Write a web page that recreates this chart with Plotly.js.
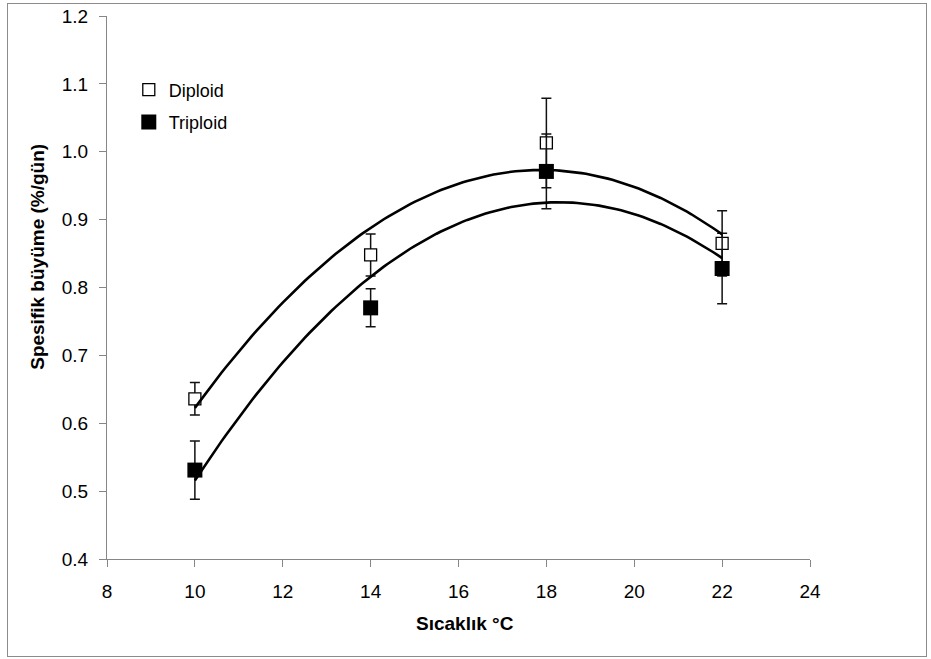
<!DOCTYPE html>
<html>
<head>
<meta charset="utf-8">
<script src="https://cdn.plot.ly/plotly-3.0.1.min.js"></script>
<style>
  html, body { margin: 0; padding: 0; background: #fff; }
  #wrap { position: relative; width: 931px; height: 659px; }
  #chart { width: 931px; height: 659px; }
  #frame { position: absolute; left: 7px; top: 3px; width: 918px; height: 652px;
           border: 1px solid #8c8c8c; pointer-events: none; }
</style>
</head>
<body>
<div id="wrap"><div id="chart"></div><div id="frame"></div></div>
<script>
// Temperature (°C)
const temperature = [10, 14, 18, 22];
// Specific growth (%/day)
const diploidGrowth = [0.636, 0.848, 1.013, 0.865];
const diploidError  = [0.024, 0.031, 0.066, 0.048];
const triploidGrowth = [0.531, 0.770, 0.971, 0.828];
const triploidError  = [0.043, 0.028, 0.055, 0.052];
const seriesNames = ['Diploid', 'Triploid'];
const xTitle = 'Sıcaklık °C';
const yTitle = 'Spesifik büyüme (%/gün)';

// Least-squares 2nd-order polynomial trendline (as in the original chart)
function polyfit2(xs, ys) {
  let n = xs.length, sx = 0, sx2 = 0, sx3 = 0, sx4 = 0, sy = 0, sxy = 0, sx2y = 0;
  for (let i = 0; i < n; i++) {
    const x = xs[i], y = ys[i];
    sx += x; sx2 += x * x; sx3 += x * x * x; sx4 += x * x * x * x;
    sy += y; sxy += x * y; sx2y += x * x * y;
  }
  const M = [[n, sx, sx2, sy], [sx, sx2, sx3, sxy], [sx2, sx3, sx4, sx2y]];
  for (let i = 0; i < 3; i++) {
    for (let k = i + 1; k < 3; k++) {
      const f = M[k][i] / M[i][i];
      for (let j = i; j < 4; j++) M[k][j] -= f * M[i][j];
    }
  }
  const c = [0, 0, 0];
  for (let i = 2; i >= 0; i--) {
    let s = M[i][3];
    for (let j = i + 1; j < 3; j++) s -= M[i][j] * c[j];
    c[i] = s / M[i][i];
  }
  return c;
}
function trend(xs, ys) {
  const c = polyfit2(xs, ys);
  const x0 = Math.min(...xs), x1 = Math.max(...xs);
  const tx = [], ty = [];
  for (let i = 0; i <= 120; i++) {
    const x = x0 + (x1 - x0) * i / 120;
    tx.push(x); ty.push(c[0] + c[1] * x + c[2] * x * x);
  }
  return {x: tx, y: ty};
}

const dT = trend(temperature, diploidGrowth);
const tT = trend(temperature, triploidGrowth);

const traces = [
  {
    x: temperature, y: diploidGrowth, name: seriesNames[0], type: 'scatter', mode: 'markers',
    legendgroup: 'a',
    marker: {symbol: 'square', size: 12, color: '#ffffff', line: {color: '#000000', width: 1.3}},
    error_y: {type: 'data', array: diploidError, visible: true, color: '#111111', thickness: 1.5, width: 5}
  },
  {
    x: temperature, y: triploidGrowth, name: seriesNames[1], type: 'scatter', mode: 'markers',
    legendgroup: 'b',
    marker: {symbol: 'square', size: 15, color: '#000000', line: {color: '#000000', width: 0}},
    error_y: {type: 'data', array: triploidError, visible: true, color: '#111111', thickness: 1.5, width: 5}
  },
  {
    x: dT.x, y: dT.y, type: 'scatter', mode: 'lines', showlegend: false, hoverinfo: 'skip',
    line: {color: '#000000', width: 2.6}
  },
  {
    x: tT.x, y: tT.y, type: 'scatter', mode: 'lines', showlegend: false, hoverinfo: 'skip',
    line: {color: '#000000', width: 2.6}
  }
];

const font = 'Arial, "Liberation Sans", sans-serif';
const layout = {
  width: 931, height: 659,
  margin: {l: 107, r: 121, t: 16, b: 100, pad: 0},
  paper_bgcolor: '#ffffff', plot_bgcolor: '#ffffff',
  font: {family: font, color: '#000000', size: 19},
  showlegend: true,
  legend: {
    x: 0.031, y: 0.898, xanchor: 'left', yanchor: 'top',
    bgcolor: 'rgba(0,0,0,0)', borderwidth: 0,
    font: {family: font, size: 18, color: '#000000'},
    traceorder: 'grouped', tracegroupgap: 6
  },
  xaxis: {
    range: [8, 24], dtick: 2, tick0: 8, showgrid: false, zeroline: false,
    showline: true, linecolor: '#868686', linewidth: 1,
    ticks: 'outside', ticklen: 7, tickcolor: '#868686', tickwidth: 1,
    ticklabelstandoff: 8,
    tickfont: {family: font, size: 19, color: '#000000'}
  },
  yaxis: {
    range: [0.4, 1.2], dtick: 0.1, tick0: 0.4, tickformat: '.1f', showgrid: false, zeroline: false,
    showline: true, linecolor: '#868686', linewidth: 1,
    ticks: 'outside', ticklen: 7, tickcolor: '#868686', tickwidth: 1,
    ticklabelstandoff: 7,
    tickfont: {family: font, size: 19, color: '#000000'}
  },
  annotations: [
    {text: '<b>' + xTitle + '</b>', xref: 'paper', yref: 'paper', x: 0.509, y: -0.118,
     xanchor: 'center', yanchor: 'middle', showarrow: false,
     font: {family: font, size: 19, color: '#000000'}},
    {text: '<b>' + yTitle + '</b>', xref: 'paper', yref: 'paper', x: -0.1, y: 0.556,
     xanchor: 'center', yanchor: 'middle', showarrow: false, textangle: -90,
     font: {family: font, size: 19, color: '#000000'}}
  ]
};

Plotly.newPlot('chart', traces, layout, {displayModeBar: false, staticPlot: true});
</script>
</body>
</html>
